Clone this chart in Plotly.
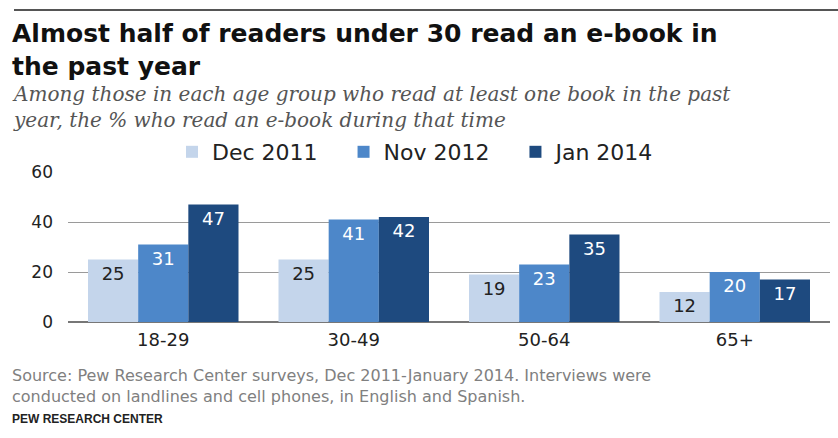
import plotly.graph_objects as go

categories = ["18-29", "30-49", "50-64", "65+"]
series_names = ["Dec 2011", "Nov 2012", "Jan 2014"]
dec_2011 = [25, 25, 19, 12]
nov_2012 = [31, 41, 23, 20]
jan_2014 = [47, 42, 35, 17]
y_ticks = [0, 20, 40, 60]

colors = ["#c4d5eb", "#4d87c9", "#1e4a7f"]
text_colors = ["#222222", "#ffffff", "#ffffff"]

W, H = 838, 438
L, R, T, B = 68, 8, 172, 116
PW = W - L - R
PH = H - T - B
SANS = "DejaVu Sans, Verdana, sans-serif"
NB = "\u00a0"


def px_x(x):
    return (x - L) / PW


def px_y(y):
    return (H - B - y) / PH


fig = go.Figure()
for i, (name, vals, c, tc) in enumerate(zip(series_names, [dec_2011, nov_2012, jan_2014], colors, text_colors)):
    fig.add_trace(go.Bar(
        x=categories, y=vals, name=name + (NB * 3 if i < 2 else ""),
        marker=dict(color=c, line=dict(width=0)),
        text=[str(v) for v in vals],
        textposition="inside", insidetextanchor="end",
        textfont=dict(family=SANS, size=18, color=tc),
        textangle=0, constraintext="none",
    ))

fig.update_layout(
    width=W, height=H,
    margin=dict(l=L, r=R, t=T, b=B),
    paper_bgcolor="white", plot_bgcolor="white",
    barmode="group", bargap=0.21, bargroupgap=0,
    font=dict(family=SANS, color="#222222"),
    showlegend=True,
    legend=dict(orientation="h", x=px_x(416), y=px_y(152), xanchor="center", yanchor="middle",
                font=dict(size=22, color="#222222"), itemwidth=30, traceorder="normal",
                bgcolor="rgba(0,0,0,0)"),
    xaxis=dict(showgrid=False, showline=False, ticks="", tickfont=dict(size=18, color="#222222"),
               ticklabelstandoff=5),
    yaxis=dict(range=[0, 60], tickvals=y_ticks, showgrid=True, gridcolor="#9a9a9a", gridwidth=1,
               zeroline=True, zerolinecolor="#777777", zerolinewidth=1.5,
               tickfont=dict(size=17, color="#222222"), ticklabelstandoff=14),
)

fig.add_shape(type="line", xref="paper", yref="paper", x0=px_x(14), x1=px_x(838), y0=px_y(10), y1=px_y(10),
              line=dict(color="#555555", width=2))

ann = [
    ("<b>Almost half of readers under 30 read an e-book in<br>the past year</b>", 50,
     dict(size=25, color="#111111", family=SANS)),
    ("<i>Among those in each age group who read at least one book in the past<br>"
     "year, the % who read an e-book during that time</i>", 107,
     dict(size=20, color="#555555", family="DejaVu Serif, Georgia, serif")),
    ("Source: Pew Research Center surveys, Dec 2011-January 2014. Interviews were<br>"
     "conducted on landlines and cell phones, in English and Spanish.", 386,
     dict(size=16, color="#808080", family=SANS)),
    ("<b>PEW RESEARCH CENTER</b>", 419, dict(size=12, color="#222222", family="Liberation Sans, Arial")),
]
for text, py, f in ann:
    fig.add_annotation(text=text, xref="paper", yref="paper", x=px_x(10), y=px_y(py),
                       xanchor="left", yanchor="middle", align="left", showarrow=False, font=f)

fig.write_html("out.html", config={"displayModeBar": False},
               post_script="document.body.style.margin='0';")
